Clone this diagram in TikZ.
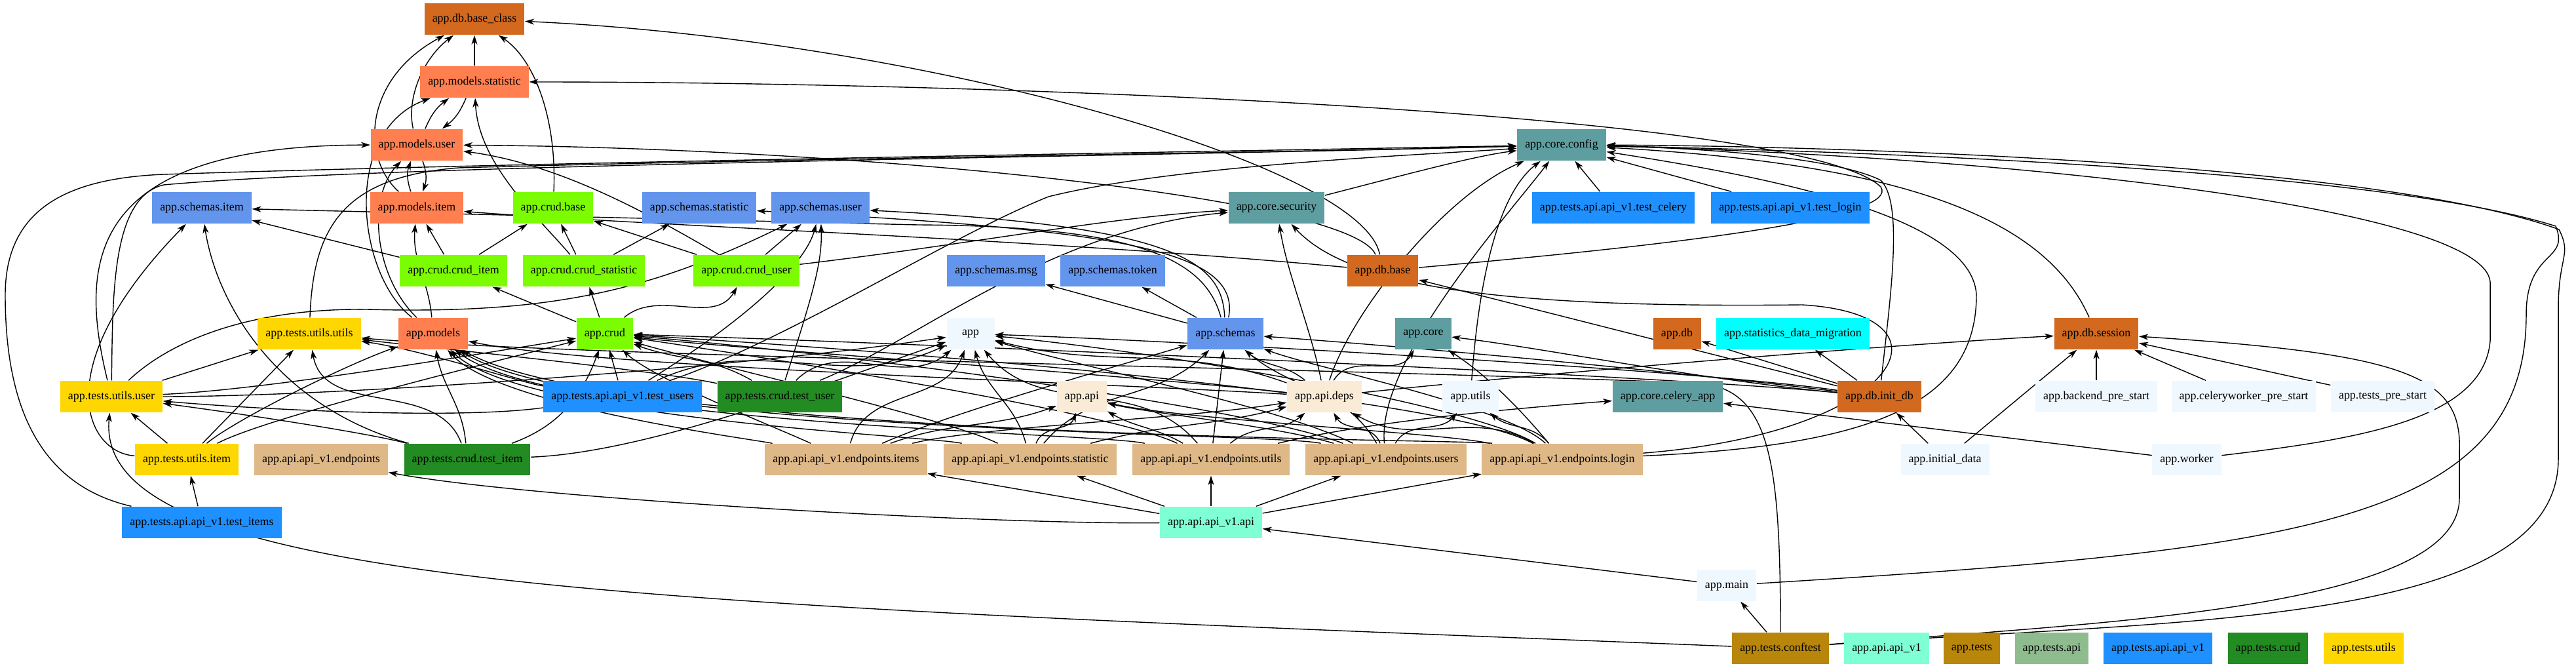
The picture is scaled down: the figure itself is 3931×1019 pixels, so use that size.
\documentclass[tikz,border=0pt]{standalone}
\usepackage{fontspec}
\setmainfont{Liberation Serif}
\usetikzlibrary{arrows.meta}
\definecolor{cChoc}{HTML}{D2691E}
\definecolor{cCoral}{HTML}{FF7F50}
\definecolor{cCfb}{HTML}{6495ED}
\definecolor{cLawn}{HTML}{7CFC00}
\definecolor{cCadet}{HTML}{5F9EA0}
\definecolor{cDodger}{HTML}{1E90FF}
\definecolor{cForest}{HTML}{228B22}
\definecolor{cGold}{HTML}{FFD700}
\definecolor{cAlice}{HTML}{F0F8FF}
\definecolor{cAntique}{HTML}{FAEBD7}
\definecolor{cBurly}{HTML}{DEB887}
\definecolor{cAqm}{HTML}{7FFFD4}
\definecolor{cCyan}{HTML}{00FFFF}
\definecolor{cDgold}{HTML}{B8860B}
\definecolor{cDsg}{HTML}{8FBC8F}
\newcommand\nodefs{\fontsize{5.1}{6}\selectfont}
\pgfdeclarelayer{bg}
\pgfsetlayers{bg,main}
\tikzset{
 nd/.style={rectangle, minimum height=0.48cm, minimum width=0.73cm, inner xsep=0.12cm, inner ysep=0pt, font=\nodefs, text=black},
 e/.style={-{Stealth[length=0.14cm,width=0.09cm,inset=0.04cm]}, line width=0.4pt, black},
}
\begin{document}
\begin{tikzpicture}[x=0.01cm,y=0.01cm]
\useasboundingbox (0,0) rectangle (3931,-1019);
% nodes
\node[nd,fill=cChoc] (bc) at (724,-29) {app.db.base\_class};
\node[nd,fill=cCoral] (mstat) at (724,-125) {app.models.statistic};
\node[nd,fill=cCoral] (muser) at (636,-221) {app.models.user};
\node[nd,fill=cCadet] (config) at (2383,-221) {app.core.config};
\node[nd,fill=cCfb] (sitem) at (308,-317) {app.schemas.item};
\node[nd,fill=cCoral] (mitem) at (636,-317) {app.models.item};
\node[nd,fill=cLawn] (cbase) at (844,-317) {app.crud.base};
\node[nd,fill=cCfb] (sstat) at (1067,-317) {app.schemas.statistic};
\node[nd,fill=cCfb] (suser) at (1252,-317) {app.schemas.user};
\node[nd,fill=cCadet] (sec) at (1948,-317) {app.core.security};
\node[nd,fill=cDodger] (tcel) at (2462,-317) {app.tests.api.api\_v1.test\_celery};
\node[nd,fill=cDodger] (tlogin) at (2732,-317) {app.tests.api.api\_v1.test\_login};
\node[nd,fill=cLawn] (citem) at (692,-413) {app.crud.crud\_item};
\node[nd,fill=cLawn] (cstat) at (891,-413) {app.crud.crud\_statistic};
\node[nd,fill=cLawn] (cuser) at (1139,-413) {app.crud.crud\_user};
\node[nd,fill=cCfb] (smsg) at (1520,-413) {app.schemas.msg};
\node[nd,fill=cCfb] (stoken) at (1698,-413) {app.schemas.token};
\node[nd,fill=cChoc] (dbbase) at (2110,-413) {app.db.base};
\node[nd,fill=cGold] (tuu) at (472,-509) {app.tests.utils.utils};
\node[nd,fill=cCoral] (models) at (661,-509) {app.models};
\node[nd,fill=cLawn] (crud) at (923,-509) {app.crud};
\node[nd,fill=cAlice] (app) at (1481,-509) {app};
\node[nd,fill=cCfb] (schemas) at (1870,-509) {app.schemas};
\node[nd,fill=cCadet] (core) at (2172,-509) {app.core};
\node[nd,fill=cChoc] (db) at (2559,-509) {app.db};
\node[nd,fill=cCyan] (sdm) at (2736,-509) {app.statistics\_data\_migration};
\node[nd,fill=cChoc] (session) at (3199,-509) {app.db.session};
\node[nd,fill=cGold] (tuuser) at (170,-605) {app.tests.utils.user};
\node[nd,fill=cDodger] (tusers) at (950,-605) {app.tests.api.api\_v1.test\_users};
\node[nd,fill=cForest] (tcuser) at (1190,-605) {app.tests.crud.test\_user};
\node[nd,fill=cAntique] (api) at (1651,-605) {app.api};
\node[nd,fill=cAntique] (deps) at (2021,-605) {app.api.deps};
\node[nd,fill=cAlice] (utils) at (2244,-605) {app.utils};
\node[nd,fill=cCadet] (celery) at (2545,-605) {app.core.celery\_app};
\node[nd,fill=cChoc] (initdb) at (2868,-605) {app.db.init\_db};
\node[nd,fill=cAlice] (bps) at (3199,-605) {app.backend\_pre\_start};
\node[nd,fill=cAlice] (cps) at (3424,-605) {app.celeryworker\_pre\_start};
\node[nd,fill=cAlice] (tps) at (3636,-605) {app.tests\_pre\_start};
\node[nd,fill=cGold] (tuitem) at (285,-701) {app.tests.utils.item};
\node[nd,fill=cBurly] (epts) at (490,-701) {app.api.api\_v1.endpoints};
\node[nd,fill=cForest] (tcitem) at (713,-701) {app.tests.crud.test\_item};
\node[nd,fill=cBurly] (eitems) at (1291,-701) {app.api.api\_v1.endpoints.items};
\node[nd,fill=cBurly] (estat) at (1572,-701) {app.api.api\_v1.endpoints.statistic};
\node[nd,fill=cBurly] (eutils) at (1848,-701) {app.api.api\_v1.endpoints.utils};
\node[nd,fill=cBurly] (eusers) at (2115,-701) {app.api.api\_v1.endpoints.users};
\node[nd,fill=cBurly] (elogin) at (2384,-701) {app.api.api\_v1.endpoints.login};
\node[nd,fill=cAlice] (idata) at (2968,-701) {app.initial\_data};
\node[nd,fill=cAlice] (worker) at (3337,-701) {app.worker};
\node[nd,fill=cDodger] (titems) at (308,-797) {app.tests.api.api\_v1.test\_items};
\node[nd,fill=cAqm] (apiapi) at (1848,-797) {app.api.api\_v1.api};
\node[nd,fill=cAlice] (main) at (2635,-893) {app.main};
\node[nd,fill=cDgold] (conftest) at (2717,-989) {app.tests.conftest};
\node[nd,fill=cAqm] (lg1) at (2879,-989) {app.api.api\_v1};
\node[nd,fill=cDgold] (lg2) at (3009,-989) {app.tests};
\node[nd,fill=cDsg] (lg3) at (3131,-989) {app.tests.api};
\node[nd,fill=cDodger] (lg4) at (3293,-989) {app.tests.api.api\_v1};
\node[nd,fill=cForest] (lg5) at (3461,-989) {app.tests.crud};
\node[nd,fill=cGold] (lg6) at (3607,-989) {app.tests.utils};
\begin{pgfonlayer}{bg}
% models / db
\draw[e] (mstat) -- (bc);
\draw[e] (muser) .. controls (620,-150) and (645,-90) .. (bc);
\draw[e] (mitem) .. controls (550,-240) and (555,-120) .. (bc);
\draw[e] (muser) to[bend left=15] (mstat);
\draw[e] (mstat) to[bend left=15] (muser);
\draw[e] (muser) to[bend left=20] (mitem);
\draw[e] (mitem) to[bend left=20] (muser);
\draw[e] (cbase) .. controls (850,-180) and (815,-90) .. (bc);
\draw[e] (dbbase) .. controls (2080,-250) and (1400,-60) .. (bc);
\draw[e] (dbbase) .. controls (2060,-300) and (1300,-225) .. (muser);
\draw[e] (dbbase) .. controls (1600,-365) and (1000,-345) .. (mitem);
\draw[e] (dbbase) .. controls (2600,-370) and (2900,-330) .. (2870,-285) .. controls (2750,-170) and (1500,-125) .. (mstat);
\draw[e] (models) to[out=95,in=-95] (mitem);
\draw[e] (models) .. controls (570,-420) and (560,-300) .. (muser);
\draw[e] (models) .. controls (545,-420) and (520,-200) .. (mstat);
\draw[e] (tuu) .. controls (478,-350) and (520,-270) .. (700,-256) .. controls (1200,-242) and (2000,-232) .. (config);
% crud
\draw[e] (citem) -- (cbase);
\draw[e] (citem) -- (mitem);
\draw[e] (citem) -- (sitem);
\draw[e] (cstat) -- (cbase);
\draw[e] (cstat) .. controls (820,-330) and (730,-250) .. (mstat);
\draw[e] (cstat) -- (sstat);
\draw[e] (cuser) -- (cbase);
\draw[e] (cuser) .. controls (980,-320) and (850,-250) .. (muser);
\draw[e] (cuser) -- (suser);
\draw[e] (cuser) .. controls (1500,-370) and (1700,-330) .. (sec);
\draw[e] (crud) -- (citem);
\draw[e] (crud) -- (cstat);
\draw[e] (crud) to[out=40,in=-120] (cuser);
% schemas
\draw[e] (schemas) -- (smsg);
\draw[e] (schemas) -- (stoken);
\draw[e] (schemas) .. controls (1840,-400) and (1750,-345) .. (1400,-343) -- (sitem);
\draw[e] (schemas) .. controls (1865,-400) and (1800,-345) .. (suser);
\draw[e] (schemas) .. controls (1895,-380) and (1700,-350) .. (sstat);
% config and core
\draw[e] (sec) .. controls (2150,-265) and (2250,-238) .. (config);
\draw[e] (tcel) -- (config);
\draw[e] (tlogin) -- (config);
\draw[e] (session) .. controls (3120,-330) and (2900,-250) .. (config);
\draw[e] (initdb) .. controls (2885,-450) and (2905,-310) .. (2870,-275) .. controls (2800,-240) and (2600,-226) .. (config);
\draw[e] (worker) .. controls (3600,-670) and (3790,-640) .. (3800,-520) -- (3800,-430) .. controls (3790,-320) and (3100,-240) .. (config);
\draw[e] (main) .. controls (3500,-840) and (3855,-800) .. (3855,-480) .. controls (3855,-380) and (3922,-400) .. (3900,-345) .. controls (3600,-250) and (2700,-228) .. (config);
\draw[e] (conftest) .. controls (3300,-945) and (3904,-960) .. (3904,-700) -- (3904,-470) .. controls (3904,-390) and (3925,-390) .. (3905,-350) .. controls (3600,-240) and (2700,-222) .. (config);
\draw[e] (conftest) .. controls (3200,-950) and (3753,-930) .. (3753,-760) -- (3753,-690) .. controls (3758,-575) and (3680,-540) .. (session);
\draw[e] (deps) .. controls (2060,-480) and (2200,-300) .. (config);
\draw[e] (utils) .. controls (2255,-450) and (2280,-300) .. (config);
\draw[e] (eusers) .. controls (2100,-550) and (2300,-330) .. (config);
\draw[e] (elogin) .. controls (2850,-680) and (3016,-620) .. (3016,-450) .. controls (3010,-330) and (2700,-270) .. (config);
\draw[e] (tusers) .. controls (1200,-520) and (1450,-360) .. (1600,-300) .. controls (1800,-250) and (2200,-235) .. (config);
\draw[e] (tuuser) .. controls (172,-450) and (170,-300) .. (250,-282) .. controls (600,-250) and (1800,-238) .. (config);
\draw[e] (titems) .. controls (60,-740) and (8,-620) .. (8,-450) .. controls (8,-320) and (100,-272) .. (250,-266) .. controls (800,-248) and (1800,-232) .. (config);
\draw[e] (tuuser) .. controls (120,-400) and (130,-222) .. (muser);
\draw[e] (main) -- (apiapi);
\draw[e] (conftest) -- (main);
\draw[e] (conftest) .. controls (1000,-920) and (140,-900) .. (tuuser);
\draw[e] (conftest) .. controls (2717,-700) and (2700,-600) .. (2600,-585) .. controls (2000,-560) and (900,-545) .. (tuu);
% api
\draw[e] (apiapi) -- (eitems);
\draw[e] (apiapi) -- (estat);
\draw[e] (apiapi) -- (eutils);
\draw[e] (apiapi) -- (eusers);
\draw[e] (apiapi) -- (elogin);
\draw[e] (apiapi) .. controls (1500,-800) and (800,-760) .. (epts);
% endpoints.items
\draw[e] (eitems) to[out=75,in=-110] (app);
\draw[e] (eitems) to[out=20,in=-160] (api);
\draw[e] (eitems) .. controls (1500,-650) and (1800,-640) .. (deps);
\draw[e] (eitems) .. controls (1180,-650) and (1000,-580) .. (crud);
\draw[e] (eitems) .. controls (1150,-670) and (760,-620) .. (models);
\draw[e] (eitems) .. controls (1450,-630) and (1700,-560) .. (schemas);
% endpoints.statistic
\draw[e] (estat) to[out=105,in=-75] (app);
\draw[e] (estat) to[out=70,in=-110] (api);
\draw[e] (estat) to[out=15,in=-165] (deps);
\draw[e] (estat) .. controls (1450,-640) and (1100,-560) .. (crud);
\draw[e] (estat) .. controls (1420,-665) and (800,-640) .. (models);
\draw[e] (estat) to[out=50,in=-135] (schemas);
% endpoints.utils
\draw[e] (eutils) to[out=130,in=-50] (app);
\draw[e] (eutils) to[out=150,in=-30] (api);
\draw[e] (eutils) to[out=40,in=-140] (deps);
\draw[e] (eutils) .. controls (1700,-630) and (1200,-550) .. (crud);
\draw[e] (eutils) .. controls (1680,-660) and (850,-650) .. (models);
\draw[e] (eutils) -- (schemas);
\draw[e] (eutils) .. controls (2100,-640) and (2350,-620) .. (celery);
% endpoints.users
\draw[e] (eusers) .. controls (1950,-620) and (1650,-560) .. (app);
\draw[e] (eusers) .. controls (1950,-650) and (1750,-630) .. (api);
\draw[e] (eusers) to[out=110,in=-60] (deps);
\draw[e] (eusers) .. controls (1900,-620) and (1300,-540) .. (crud);
\draw[e] (eusers) .. controls (1950,-660) and (900,-660) .. (models);
\draw[e] (eusers) to[out=120,in=-40] (schemas);
\draw[e] (eusers) to[out=60,in=-130] (utils);
% endpoints.login
\draw[e] (elogin) .. controls (2250,-620) and (1800,-540) .. (app);
\draw[e] (elogin) .. controls (2200,-660) and (1800,-640) .. (api);
\draw[e] (elogin) to[out=150,in=-30] (deps);
\draw[e] (elogin) .. controls (2200,-600) and (1300,-530) .. (crud);
\draw[e] (elogin) .. controls (2250,-670) and (950,-670) .. (models);
\draw[e] (elogin) .. controls (2300,-620) and (2000,-560) .. (schemas);
\draw[e] (elogin) to[out=130,in=-40] (utils);
\draw[e] (elogin) .. controls (2900,-660) and (3000,-480) .. (2750,-465) .. controls (2300,-470) and (2060,-440) .. (sec);
\draw[e] (elogin) .. controls (2300,-600) and (2250,-560) .. (core);
% deps
\draw[e] (deps) to[out=160,in=-15] (app);
\draw[e] (deps) .. controls (1700,-570) and (1100,-530) .. (crud);
\draw[e] (deps) .. controls (1700,-585) and (900,-560) .. (models);
\draw[e] (deps) to[out=140,in=-40] (schemas);
\draw[e] (deps) to[out=60,in=-120] (core);
\draw[e] (deps) .. controls (2000,-500) and (1965,-420) .. (sec);
\draw[e] (deps) .. controls (2400,-565) and (2900,-525) .. (session);
% init_db
\draw[e] (initdb) .. controls (2600,-565) and (1800,-520) .. (app);
\draw[e] (initdb) .. controls (2500,-570) and (1300,-520) .. (crud);
\draw[e] (initdb) .. controls (2500,-560) and (2100,-525) .. (schemas);
\draw[e] (initdb) -- (dbbase);
\draw[e] (initdb) -- (db);
\draw[e] (initdb) -- (sdm);
\draw[e] (initdb) .. controls (2600,-580) and (2350,-530) .. (core);
% tests
\draw[e] (tuuser) -- (tuu);
\draw[e] (tuuser) .. controls (400,-595) and (700,-545) .. (crud);
\draw[e] (tuuser) .. controls (500,-605) and (1100,-565) .. (app);
\draw[e] (tuuser) .. controls (260,-520) and (380,-470) .. (560,-472) .. controls (850,-480) and (1000,-440) .. (suser);
\draw[e] (tuitem) -- (tuuser);
\draw[e] (tuitem) -- (tuu);
\draw[e] (tuitem) .. controls (400,-640) and (700,-565) .. (crud);
\draw[e] (tuitem) .. controls (360,-640) and (520,-560) .. (models);
\draw[e] (tuitem) .. controls (130,-690) and (70,-560) .. (sitem);
\draw[e] (titems) -- (tuitem);
\draw[e] (tcitem) .. controls (560,-660) and (360,-630) .. (tuuser);
\draw[e] (tcitem) .. controls (420,-620) and (330,-460) .. (sitem);
\draw[e] (tcitem) to[out=110,in=-80] (tuu);
\draw[e] (tcitem) to[out=20,in=-110] (crud);
\draw[e] (tcitem) .. controls (1000,-690) and (1300,-570) .. (app);
\draw[e] (tcitem) to[out=95,in=-80] (models);
\draw[e] (tcuser) to[out=45,in=-140] (app);
\draw[e] (tcuser) to[out=150,in=-20] (crud);
\draw[e] (tcuser) .. controls (1240,-450) and (1255,-400) .. (suser);
\draw[e] (tcuser) .. controls (1400,-520) and (1600,-350) .. (sec);
\draw[e] (tcuser) .. controls (1000,-565) and (700,-535) .. (tuu);
\draw[e] (tusers) -- (crud);
\draw[e] (tusers) to[out=25,in=-155] (app);
\draw[e] (tusers) .. controls (1150,-480) and (1230,-400) .. (suser);
\draw[e] (tusers) .. controls (800,-585) and (650,-535) .. (tuu);
\draw[e] (tusers) .. controls (700,-640) and (400,-625) .. (tuuser);
% misc
\draw[e] (idata) -- (session);
\draw[e] (idata) -- (initdb);
\draw[e] (bps) -- (session);
\draw[e] (cps) -- (session);
\draw[e] (tps) -- (session);
\draw[e] (worker) -- (celery);
\end{pgfonlayer}
\end{tikzpicture}
\end{document}
